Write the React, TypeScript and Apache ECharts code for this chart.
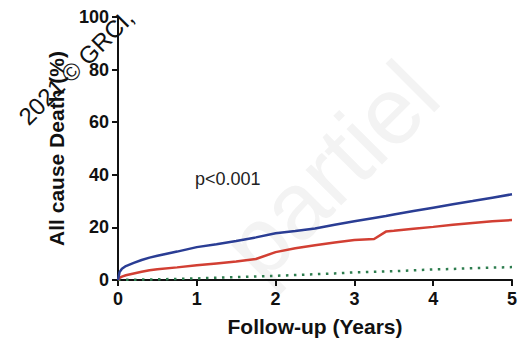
import React, { useEffect, useRef } from "react";
import * as echarts from "echarts";

const years = [0, 0.02, 0.05, 0.1, 0.2, 0.3, 0.4, 0.5, 0.75, 1, 1.25, 1.5, 1.75, 2, 2.25, 2.5, 2.75, 3, 3.25, 3.4, 3.5, 3.75, 4, 4.25, 4.5, 4.75, 5];
const blueGroup = [0, 3, 4.3, 5.3, 6.5, 7.6, 8.5, 9.2, 10.8, 12.5, 13.6, 14.8, 16.2, 17.8, 18.6, 19.6, 21, 22.3, 23.6, 24.3, 24.9, 26.2, 27.5, 28.8, 30, 31.3, 32.6];
const redGroup = [0, 0.8, 1.3, 1.8, 2.5, 3.1, 3.7, 4.1, 4.8, 5.6, 6.3, 7, 8, 10.6, 12.1, 13.2, 14.3, 15.2, 15.6, 18.4, 18.7, 19.5, 20.2, 21, 21.7, 22.3, 22.8];
const greenGroup = [0, 0, 0, 0.05, 0.1, 0.15, 0.2, 0.25, 0.4, 0.6, 0.85, 1.1, 1.35, 1.6, 1.9, 2.2, 2.5, 2.9, 3.1, 3.25, 3.35, 3.7, 4, 4.2, 4.5, 4.7, 4.9];

const pair = (ys: number[]) => years.map((x, i) => [x, ys[i]]);

export default function App() {
  const ref = useRef<HTMLDivElement>(null);
  useEffect(() => {
    if (!ref.current) return;
    const chart = echarts.init(ref.current, null, { renderer: "svg" });
    const font = "'Liberation Sans', Arial, sans-serif";
    const axisCommon = {
      axisLine: { show: true, lineStyle: { color: "#111", width: 2 } },
      axisTick: { show: true, length: 6, lineStyle: { color: "#111", width: 2 } },
      splitLine: { show: false },
    };
    chart.setOption({
      animation: false,
      backgroundColor: "#fff",
      grid: { left: 118, right: 7, top: 17, bottom: 65, containLabel: false },
      xAxis: {
        type: "value",
        min: 0,
        max: 5,
        interval: 1,
        ...axisCommon,
        axisLabel: { color: "#111", fontFamily: font, fontWeight: "bold", fontSize: 18, margin: 10 },
        name: "Follow-up (Years)",
        nameLocation: "middle",
        nameGap: 36,
        nameTextStyle: { color: "#111", fontFamily: font, fontWeight: "bold", fontSize: 21 },
      },
      yAxis: {
        type: "value",
        min: 0,
        max: 100,
        interval: 20,
        ...axisCommon,
        axisLabel: { color: "#111", fontFamily: font, fontWeight: "bold", fontSize: 18, margin: 9 },
        name: "All cause Death (%)",
        nameLocation: "middle",
        nameGap: 51,
        nameTextStyle: { color: "#111", fontFamily: font, fontWeight: "bold", fontSize: 21 },
      },
      graphic: [
        {
          type: "text",
          x: 330,
          y: 170,
          rotation: Math.PI / 4,
          silent: true,
          z: -10,
          style: { text: "partiel", fill: "#f3f3f3", font: "95px 'Liberation Sans', Arial, sans-serif", align: "center", verticalAlign: "middle" },
        },
        {
          type: "text",
          left: 195,
          top: 170,
          style: { text: "p<0.001", fill: "#222", font: "18px 'Liberation Sans', Arial, sans-serif" },
        },
        {
          type: "text",
          x: 76,
          y: 67,
          rotation: Math.PI / 4,
          z: 100,
          style: { text: "2021 © GRCI,", fill: "#111", font: "24px 'Liberation Sans', Arial, sans-serif", align: "center", verticalAlign: "middle" },
        },
      ],
      series: [
        {
          type: "line",
          data: pair(blueGroup),
          showSymbol: false,
          lineStyle: { color: "#2a3d94", width: 2.5 },
          z: 3,
        },
        {
          type: "line",
          data: pair(redGroup),
          showSymbol: false,
          lineStyle: { color: "#d23f33", width: 2.5 },
          z: 2,
        },
        {
          type: "line",
          data: pair(greenGroup),
          showSymbol: false,
          lineStyle: { color: "#2e7d4f", width: 2.5, type: [2.5, 5.5] },
          z: 1,
        },
      ],
    });
    return () => chart.dispose();
  }, []);
  return <div ref={ref} style={{ width: 520, height: 345, position: "absolute", left: 0, top: 0 }} />;
}
